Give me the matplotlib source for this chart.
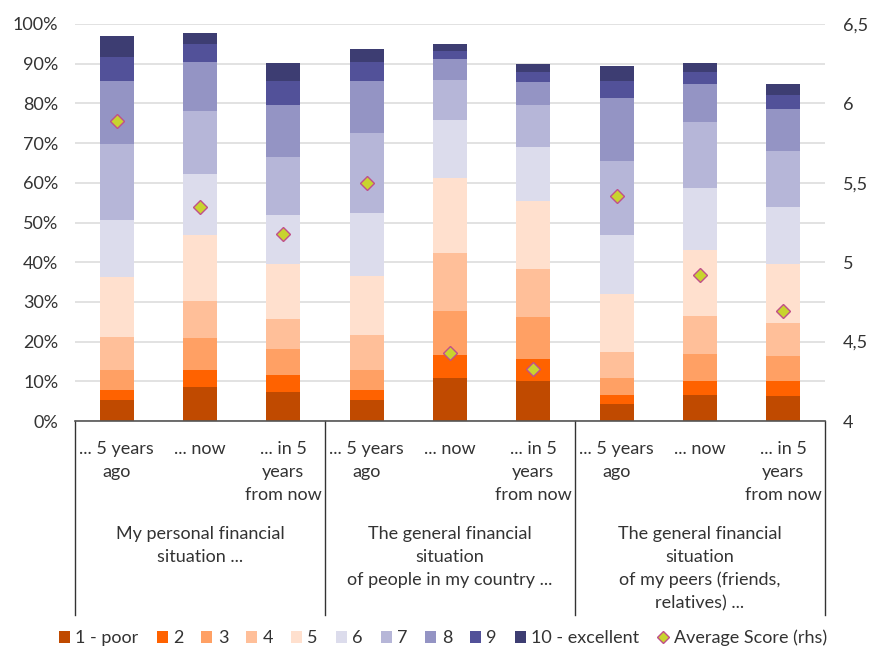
import matplotlib
matplotlib.use("Agg")
import matplotlib.pyplot as plt
from matplotlib.patches import Patch
from matplotlib.lines import Line2D
import numpy as np

plt.rcParams['font.family'] = ['Lato', 'DejaVu Sans']

# Survey answer shares (%) per bar, score 1 (poor) .. 10 (excellent)
bar_labels = ["... 5 years\nago", "... now", "... in 5\nyears\nfrom now"] * 3
group_labels = ["My personal financial\nsituation ...",
                "The general financial\nsituation\nof people in my country ...",
                "The general financial\nsituation\nof my peers (friends,\nrelatives) ..."]
score_names = ["1 - poor", "2", "3", "4", "5", "6", "7", "8", "9", "10 - excellent"]

s1 = [5.3, 8.5, 7.3, 5.3, 10.8, 10.2, 4.4, 6.5, 6.2]
s2 = [2.4, 4.4, 4.2, 2.4, 5.9, 5.3, 2.1, 3.5, 3.8]
s3 = [5.1, 7.9, 6.7, 5.1, 11.1, 10.6, 4.3, 6.8, 6.3]
s4 = [8.3, 9.4, 7.6, 8.9, 14.6, 12.3, 6.7, 9.6, 8.3]
s5 = [15.2, 16.7, 13.7, 14.9, 18.7, 17.1, 14.6, 16.6, 14.9]
s6 = [14.4, 15.2, 12.3, 15.8, 14.8, 13.6, 14.8, 15.8, 14.3]
s7 = [19.0, 16.1, 14.7, 20.1, 10.1, 10.5, 18.6, 16.5, 14.3]
s8 = [16.0, 12.3, 13.1, 13.2, 5.3, 5.8, 15.8, 9.5, 10.6]
s9 = [5.9, 4.4, 6.1, 4.7, 1.8, 2.6, 4.4, 3.0, 3.4]
s10 = [5.4, 2.9, 4.6, 3.2, 1.9, 1.9, 3.6, 2.3, 2.7]
avg_score = [5.89, 5.35, 5.18, 5.50, 4.43, 4.33, 5.42, 4.92, 4.69]

series = [s1, s2, s3, s4, s5, s6, s7, s8, s9, s10]
colors = ["#C04A00", "#FF6200", "#FFA064", "#FFBF99", "#FFE0CE",
          "#DCDCEC", "#B6B6D8", "#9494C4", "#525199", "#3D3D72"]

text_color = "#333333"
fs = 13
fig = plt.figure(figsize=(8.69, 6.48), dpi=100)
ax = fig.add_axes([75 / 869, 1 - 421 / 648, 750 / 869, 397 / 648])

x = np.arange(len(bar_labels))
bottom = np.zeros(len(x))
for vals, col in zip(series, colors):
    v = np.array(vals) / 100
    ax.bar(x, v, width=0.41, bottom=bottom, color=col, zorder=2)
    bottom += v

ax.set_xlim(-0.5, 8.5)
ax.set_ylim(0, 1)
ax.set_yticks(np.arange(0, 1.01, 0.1))
ax.set_yticklabels([f"{int(round(t * 100))}%" for t in np.arange(0, 1.01, 0.1)])
ax.grid(axis='y', color="#DDDDDD", linewidth=1.2, zorder=0)
ax.set_xticks([])
for sp in ['top', 'right', 'left']:
    ax.spines[sp].set_visible(False)
ax.spines['bottom'].set_color("#555555")
ax.spines['bottom'].set_linewidth(1.2)
ax.tick_params(axis='y', length=0, pad=12, labelsize=fs, labelcolor=text_color)

ax2 = ax.twinx()
ax2.set_ylim(4, 6.5)
rticks = [4, 4.5, 5, 5.5, 6, 6.5]
ax2.set_yticks(rticks)
ax2.set_yticklabels([f"{t:g}".replace(".", ",") for t in rticks])
ax2.tick_params(axis='y', length=0, pad=13, labelsize=fs, labelcolor=text_color)
for sp in ax2.spines.values():
    sp.set_visible(False)
ax2.plot(x, avg_score, linestyle='none', marker='D', markersize=7.5,
         markerfacecolor="#C8D42E", markeredgecolor="#C0508A",
         markeredgewidth=1.0, zorder=5)

# Category labels and group separators below the axis
ph = 397.0
for xi, lab in zip(x, bar_labels):
    ax.text(xi, (421 - 441) / ph, lab, transform=ax.get_xaxis_transform(),
            ha='center', va='top', fontsize=fs, color=text_color,
            linespacing=1.52, clip_on=False)
for gi, lab in enumerate(group_labels):
    ax.text(3 * gi + 1, (421 - 526) / ph, lab, transform=ax.get_xaxis_transform(),
            ha='center', va='top', fontsize=fs, color=text_color,
            linespacing=1.52, clip_on=False)
for xs in [-0.5, 2.5, 5.5, 8.5]:
    ax.plot([xs, xs], [0, (421 - 615) / ph], transform=ax.get_xaxis_transform(),
            color="#333333", linewidth=1.0, clip_on=False)

handles = [Patch(facecolor=c, edgecolor='none') for c in colors]
handles.append(Line2D([], [], linestyle='none', marker='D', markersize=6,
                      markerfacecolor="#C8D42E", markeredgecolor="#C0508A",
                      markeredgewidth=1.0))
labels = score_names + ["Average Score (rhs)"]
fig.legend(handles, labels, loc='center', bbox_to_anchor=(443 / 869, 1 - 638 / 648),
           ncol=11, frameon=False, fontsize=fs, handlelength=0.6, handleheight=0.6,
           handletextpad=0.3, columnspacing=1.0, labelcolor=text_color)

fig.savefig("out.png", dpi=100)
